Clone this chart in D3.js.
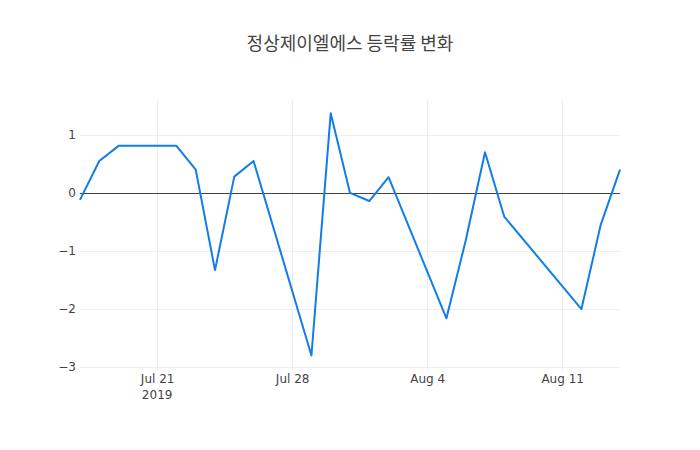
<!DOCTYPE html>
<html>
<head>
<meta charset="utf-8">
<script src="https://cdn.jsdelivr.net/npm/d3@7"></script>
<style>
  body { margin: 0; background: #fff; }
  text { font-family: "DejaVu Sans", "Noto Sans CJK KR", sans-serif; }
</style>
</head>
<body>
<div id="chart"></div>
<script>
// trading days and daily change (%)
const dates = ["2019-07-17","2019-07-18","2019-07-19","2019-07-22","2019-07-23","2019-07-24",
  "2019-07-25","2019-07-26","2019-07-29","2019-07-30","2019-07-31","2019-08-01","2019-08-02",
  "2019-08-05","2019-08-06","2019-08-07","2019-08-08","2019-08-12","2019-08-13","2019-08-14"];
const changes = [-0.12, 0.55, 0.81, 0.81, 0.40, -1.33, 0.28, 0.55, -2.80, 1.37, 0.0, -0.14, 0.27,
  -2.16, -0.82, 0.70, -0.41, -2.0, -0.55, 0.40];
const xTicks = ["2019-07-21","2019-07-28","2019-08-04","2019-08-11"];
const yTicks = [-3, -2, -1, 0, 1];
const title = "정상제이엘에스 등락률 변화";

const margin = {top: 100, right: 80, bottom: 80, left: 80};
const W = 700, H = 450;
const width = W - margin.left - margin.right;
const height = H - margin.top - margin.bottom;
const parse = d3.timeParse("%Y-%m-%d");
const data = dates.map((d, i) => ({date: parse(d), v: changes[i]}));

const svg = d3.select("#chart").append("svg")
  .attr("width", W)
  .attr("height", H);

svg.append("text")
  .attr("x", W / 2)
  .attr("y", 50)
  .attr("text-anchor", "middle")
  .style("font-family", "'Noto Sans CJK KR', sans-serif")
  .style("font-size", "18px")
  .style("fill", "#444")
  .text(title);

const g = svg.append("g")
  .attr("transform", `translate(${margin.left},${margin.top})`);

const x = d3.scaleTime()
  .domain(d3.extent(data, d => d.date))
  .range([0, width]);
const y = d3.scaleLinear()
  .domain([-3.05, 1.6])
  .range([height, 0]);

// grid
g.append("g")
  .selectAll("line")
  .data(xTicks.map(parse))
  .enter().append("line")
  .attr("x1", d => Math.round(x(d)) + 0.5).attr("x2", d => Math.round(x(d)) + 0.5)
  .attr("y1", 0).attr("y2", height)
  .attr("stroke", "#eee");
g.append("g")
  .selectAll("line")
  .data(yTicks.filter(t => t !== 0))
  .enter().append("line")
  .attr("x1", 0).attr("x2", width)
  .attr("y1", d => Math.round(y(d)) + 0.5).attr("y2", d => Math.round(y(d)) + 0.5)
  .attr("stroke", "#eee");

// zero line
g.append("line")
  .attr("x1", 0).attr("x2", width)
  .attr("y1", Math.round(y(0)) + 0.5).attr("y2", Math.round(y(0)) + 0.5)
  .attr("stroke", "#444")
  .attr("stroke-width", 1);

// axes
const fmt = d3.timeFormat("%b %-d");
const xAxis = g.append("g")
  .attr("transform", `translate(0,${height})`)
  .call(d3.axisBottom(x).tickValues(xTicks.map(parse)).tickFormat(fmt).tickSize(0).tickPadding(4));
xAxis.select(".domain").remove();
xAxis.selectAll("text").style("font-size", "12px").style("fill", "#444");
xAxis.append("text")
  .attr("x", x(parse(xTicks[0])))
  .attr("y", 29)
  .attr("text-anchor", "middle")
  .style("font-size", "12px")
  .style("fill", "#444")
  .text("2019");

const yAxis = g.append("g")
  .call(d3.axisLeft(y).tickValues(yTicks).tickFormat(d => d < 0 ? "\u2212" + Math.abs(d) : d).tickSize(0).tickPadding(4));
yAxis.select(".domain").remove();
yAxis.selectAll("text").style("font-size", "12px").style("fill", "#444");

// line
const line = d3.line()
  .x(d => x(d.date))
  .y(d => y(d.v));
g.append("path")
  .datum(data)
  .attr("fill", "none")
  .attr("stroke", "#127de8")
  .attr("stroke-width", 2)
  .attr("stroke-linejoin", "round")
  .attr("d", line);
</script>
</body>
</html>
